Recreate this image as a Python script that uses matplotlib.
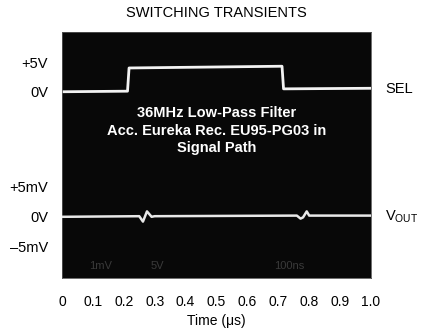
import matplotlib
matplotlib.use("Agg")
import matplotlib.pyplot as plt

plt.rcParams['font.family'] = ['Liberation Sans', 'DejaVu Sans']
plt.rcParams['mathtext.fontset'] = 'custom'
plt.rcParams['mathtext.rm'] = 'Liberation Sans'

# SEL control signal (volts) vs time (us)
sel_t = [0.0, 0.212, 0.217, 0.712, 0.717, 1.0]
sel_v = [-0.1, 0.0, 4.0, 4.3, 0.4, 0.5]

# output glitches (mV) vs time (us)
out_t = [0.0, 0.25, 0.262, 0.275, 0.29, 0.30, 0.76, 0.772, 0.78, 0.792, 0.80, 1.0]
out_v = [0.0, 0.1, -0.8, 0.9, 0.0, 0.1, 0.2, -0.3, -0.1, 0.9, 0.2, 0.2]

x_ticks = [0, 0.1, 0.2, 0.3, 0.4, 0.5, 0.6, 0.7, 0.8, 0.9, 1.0]
x_labels = ['0', '0.1', '0.2', '0.3', '0.4', '0.5', '0.6', '0.7', '0.8', '0.9', '1.0']
sel_ticks = [0, 5]
sel_labels = ['0V', '+5V']
out_ticks = [-5, 0, 5]
out_labels = ['\u20135mV', '0V', '+5mV']

W, H = 423, 330
fig = plt.figure(figsize=(W / 100, H / 100), dpi=100)
rect = [62 / W, 1 - 278 / H, (371 - 62) / W, (278 - 32) / H]

ax = fig.add_axes(rect)
ax.set_facecolor('#080808')
ax.plot(sel_t, sel_v, color='#f2f2f2', lw=2.0)
ax.set_xlim(0, 1.0)
ax.set_ylim(-32.2, 10.2)
ax.set_yticks(sel_ticks)
ax.set_yticklabels(sel_labels)
ax.set_xticks(x_ticks)
ax.set_xticklabels(x_labels)
ax.tick_params(length=0, labelsize=10.5, pad=10)
ax.tick_params(axis='x', labelsize=10, pad=12)
for s in ax.spines.values():
    s.set_color('#555555')
    s.set_linewidth(0.6)
ax.set_xlabel('Time (\u03bcs)', fontsize=10, labelpad=4)

ax2 = fig.add_axes(rect)
ax2.patch.set_alpha(0)
ax2.plot(out_t, out_v, color='#e8e8e8', lw=1.8)
ax2.set_xlim(0, 1.0)
ax2.set_ylim(-10.2, 30.8)
ax2.set_yticks(out_ticks)
ax2.set_yticklabels(out_labels)
ax2.set_xticks([])
ax2.tick_params(length=0, labelsize=10.5, pad=10)
for s in ax2.spines.values():
    s.set_visible(False)

ax.text(1.045, 0.4, 'SEL', transform=ax.get_yaxis_transform(),
        fontsize=10.5, va='center', ha='left')
ax2.text(1.045, 0, r'V$_{\mathrm{OUT}}$', transform=ax2.get_yaxis_transform(),
         fontsize=10.5, va='center', ha='left')

ax.text(0.5, 0.598, '36MHz Low-Pass Filter\nAcc. Eureka Rec. EU95-PG03 in\nSignal Path',
        transform=ax.transAxes, color='white', fontsize=10.5, fontweight='bold',
        ha='center', va='center', linespacing=1.32)

# faint scope readout
for xp, s in [(0.125, '1mV'), (0.31, '5V'), (0.735, '100ns')]:
    ax.text(xp, 0.03, s, transform=ax.transAxes, color='#3a3a3a', fontsize=8,
            ha='center', va='bottom')

fig.text(216.5 / W, 1 - 13 / H, 'SWITCHING TRANSIENTS', fontsize=10.5,
         ha='center', va='center')

fig.savefig('out.png', dpi=100)
